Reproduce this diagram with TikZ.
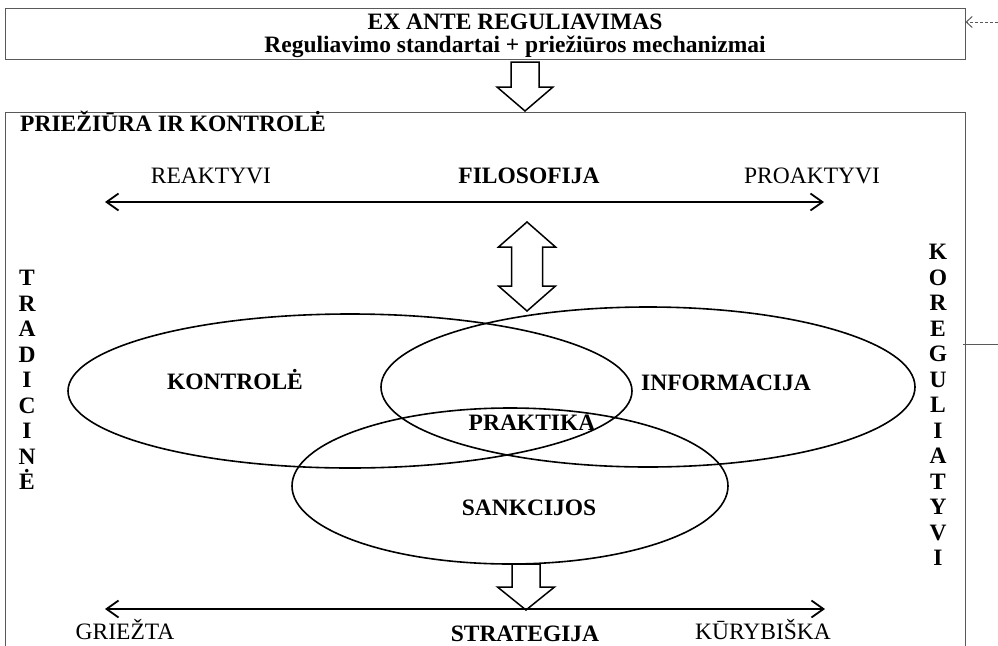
\documentclass[tikz,border=0pt]{standalone}
\usepackage{fontspec}
\setmainfont{Liberation Serif}
\usetikzlibrary{arrows.meta}
\tikzset{
  frame/.style={draw=black!65, line width=1pt},
  lbl/.style={anchor=base, inner sep=0pt, font=\fontsize{23.5}{27}\selectfont},
  blbl/.style={lbl, font=\fontsize{23.5}{27}\selectfont\bfseries},
  axis/.style={line width=1.8pt, {Straight Barb[length=12pt,width=17pt]}-{Straight Barb[length=12pt,width=17pt]}},
  venn/.style={line width=1.6pt},
  hollow/.style={draw, line width=1.5pt, line join=miter, fill=white},
}
\begin{document}
\begin{tikzpicture}[x=1pt, y=-1pt]
  \useasboundingbox (0,0) rectangle (998,645);
  % boxes
  \node[frame, minimum width=960pt, minimum height=51pt, inner sep=0pt] (ante) at (485,33.5) {};
  \node[frame, minimum width=960pt, minimum height=560pt, inner sep=0pt, anchor=north west] (prieziura) at (5,112) {};
  \node[blbl] (anteT) at (515,29.5) {EX ANTE REGULIAVIMAS};
  \node[blbl] (anteS) at (515,52) {Reguliavimo standartai + priežiūros mechanizmai};
  \node[blbl, anchor=base west] (priezT) at (20,131) {PRIEŽIŪRA IR KONTROLĖ};
  \coordinate (src) at (998,22);
  \coordinate (out) at (998,344);
  \draw[frame, dash pattern=on 3pt off 2pt, -{Straight Barb[length=6pt,width=11pt]}] (src) -- (ante.east |- src);
  \draw[frame] (prieziura.east |- out) ++(-3,0) -- (out);
  % hollow arrows
  \draw[hollow] (511,62) -- (539,62) -- (539,87) -- (553,87) -- (525,111) -- (497,87) -- (511,87) -- cycle;
  \draw[hollow] (527,222) -- (555.5,247) -- (542.5,247) -- (542.5,286) -- (555.5,286) -- (527,311)
    -- (498.5,286) -- (511.5,286) -- (511.5,247) -- (498.5,247) -- cycle;
  % filosofija
  \node[lbl] (reakt) at (211,183) {REAKTYVI};
  \node[blbl] (filos) at (529,183) {FILOSOFIJA};
  \node[lbl] (proakt) at (812,183) {PROAKTYVI};
  \coordinate (fl) at (105,202);
  \coordinate (fr) at (824,202);
  \draw[axis] (fl) -- (fr);
  % sets
  \draw[venn] (350,391) ellipse [x radius=282, y radius=77];
  \draw[venn] (648,387) ellipse [x radius=267, y radius=80];
  \draw[venn] (510,486) ellipse [x radius=218, y radius=78];
  \node[blbl] (kontr) at (235,389) {KONTROLĖ};
  \node[blbl] (inform) at (726,390) {INFORMACIJA};
  \node[blbl] (prakt) at (532,430) {PRAKTIKA};
  \node[blbl] (sankc) at (529,515) {SANKCIJOS};
  % side words
  \foreach \ch [count=\i from 0] in {T,R,A,D,I,C,I,N,Ė}
    \node[blbl] (trad\i) at (27,285.5+25.5*\i) {\ch};
  \foreach \ch [count=\i from 0] in {K,O,R,E,G,U,L,I,A,T,Y,V,I}
    \node[blbl] (koreg\i) at (938,259.5+25.5*\i) {\ch};
  % strategija
  \draw[hollow] (512,564) -- (512,587) -- (497.5,587) -- (526,610) -- (554.5,587) -- (540,587) -- (540,564) -- cycle;
  \coordinate (sl) at (105,609);
  \coordinate (sr) at (825,609);
  \draw[axis] (sl) -- (sr);
  \node[lbl] (griez) at (125,639) {GRIEŽTA};
  \node[blbl] (strat) at (525,641) {STRATEGIJA};
  \node[lbl] (kuryb) at (763,639) {KŪRYBIŠKA};
\end{tikzpicture}
\end{document}
